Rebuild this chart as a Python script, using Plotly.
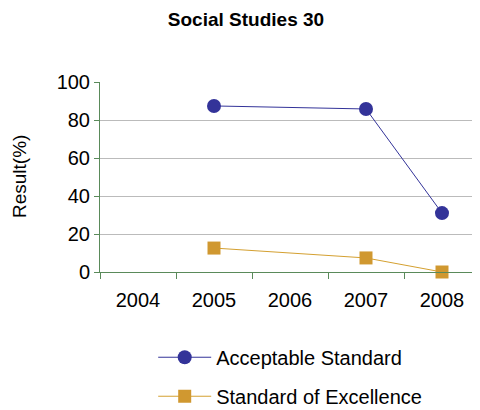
import plotly.graph_objects as go

years = ["2004", "2005", "2006", "2007", "2008"]
acceptable = [None, 87.4, None, 85.8, 31.0]
excellence = [None, 12.6, None, 7.4, 0.0]
yticks = [0, 20, 40, 60, 80, 100]

W, H = 472, 402  # page body has an 8px margin
L, T, PW, PH = 92, 74, 380, 190

fig = go.Figure()
fig.add_trace(go.Scatter(
    x=years, y=acceptable, name="Acceptable Standard", mode="lines+markers",
    connectgaps=True, legendgroup="a",
    line=dict(color="#333399", width=1),
    marker=dict(symbol="circle", size=14, color="#333399"),
    cliponaxis=False,
))
fig.add_trace(go.Scatter(
    x=years, y=excellence, name="Standard of Excellence", mode="lines+markers",
    connectgaps=True, legendgroup="b",
    line=dict(color="#D4A030", width=1),
    marker=dict(symbol="square", size=13, color="#D09830"),
    cliponaxis=False,
))

fig.update_layout(
    width=W, height=H,
    margin=dict(l=L, r=W - L - PW, t=T, b=H - T - PH, autoexpand=False),
    paper_bgcolor="white", plot_bgcolor="white",
    font=dict(family="Liberation Sans, Arial, sans-serif", color="black"),
    title=dict(text="<b>Social Studies 30</b>", x=238 / W, xanchor="center",
               y=1 - 11 / H, yanchor="middle", font=dict(size=19)),
    xaxis=dict(type="category", categoryorder="array", categoryarray=years,
               tickson="boundaries", ticks="outside", ticklen=6,
               tickcolor="#5a8a5a", showline=True, linecolor="#5a8a5a",
               linewidth=1, showgrid=False, tickfont=dict(size=20),
               ticklabelstandoff=10,
               range=[-0.5, 4.5], automargin=False),
    yaxis=dict(range=[0, 100], tickvals=yticks, ticks="outside", ticklen=5,
               tickcolor="#5a8a5a", showline=True, linecolor="#5a8a5a",
               linewidth=1, showgrid=True, gridcolor="#bbbbbb",
               tickfont=dict(size=20), zeroline=False, automargin=False),
    annotations=[dict(text="Result(%)", xref="paper", yref="paper",
                      x=-81 / PW, y=(264 - 169) / PH, textangle=-90,
                      showarrow=False, font=dict(size=19),
                      xanchor="center", yanchor="middle")],
    legend=dict(x=0.14, y=-0.346, xanchor="left", yanchor="top",
                font=dict(size=20), tracegroupgap=10, itemwidth=53,
                bgcolor="rgba(0,0,0,0)"),
    showlegend=True,
)

fig.write_html("out.html")
